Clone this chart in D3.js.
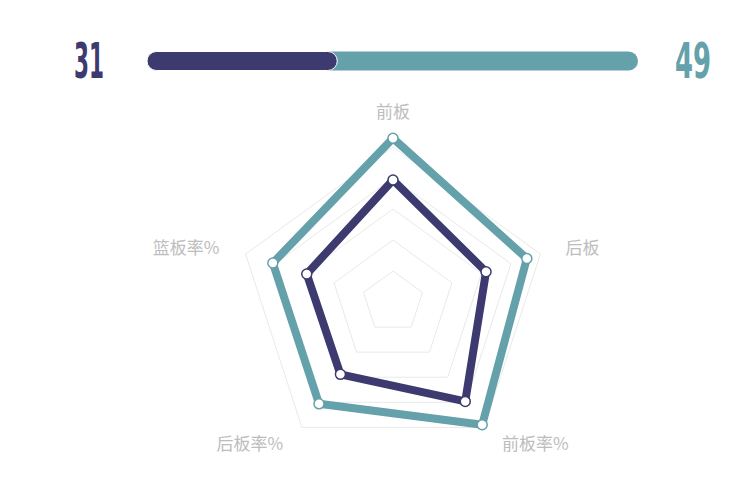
<!DOCTYPE html>
<html>
<head>
<meta charset="utf-8">
<script src="https://cdn.jsdelivr.net/npm/d3@7/dist/d3.min.js"></script>
<style>
  html, body { margin: 0; padding: 0; background: #fff; }
  svg { display: block; }
</style>
</head>
<body>
<svg id="chart" width="750" height="497"></svg>
<script>
// ---- data ----
const indicators = ["前板", "后板", "前板率%", "后板率%", "篮板率%"];
const teamA = [78.7, 63.1, 79.3, 57.7, 58.5];   // navy
const teamB = [105.6, 90.8, 97.9, 81.2, 81.5];  // teal
const totals = [31, 49];
const gridLevels = [20, 40, 60, 80, 100];

const navy = "#3c3a6f";
const teal = "#64a1ab";

const svg = d3.select("#chart");

// ---- top comparison bar ----
const barX0 = 147, barX1 = 638, barY = 61, barH = 19;
const xBar = d3.scaleLinear().domain([0, d3.sum(totals)]).range([barX0, barX1]);
svg.append("rect")
  .attr("x", xBar(0)).attr("y", barY - barH / 2)
  .attr("width", xBar(d3.sum(totals)) - xBar(0)).attr("height", barH)
  .attr("rx", barH / 2).attr("fill", teal);
svg.append("rect")
  .attr("x", xBar(0)).attr("y", barY - barH / 2)
  .attr("width", xBar(totals[0]) - xBar(0)).attr("height", barH)
  .attr("rx", barH / 2).attr("fill", navy)
  .attr("stroke", "#fff").attr("stroke-width", 1);

const numFont = "'Liberation Sans Narrow', 'DejaVu Sans Condensed', sans-serif";
svg.append("text")
  .attr("x", 74).attr("y", 78)
  .attr("font-family", numFont).attr("font-weight", "bold")
  .attr("font-size", 50).attr("fill", navy)
  .attr("textLength", 30).attr("lengthAdjust", "spacingAndGlyphs")
  .text(totals[0]);
svg.append("text")
  .attr("x", 675).attr("y", 78)
  .attr("font-family", numFont).attr("font-weight", "bold")
  .attr("font-size", 50).attr("fill", teal)
  .attr("textLength", 36).attr("lengthAdjust", "spacingAndGlyphs")
  .text(totals[1]);

// ---- radar ----
const cx = 393, cy = 302, R = 155;
const r = d3.scaleLinear().domain([0, 100]).range([0, R]);
const angle = d3.scaleLinear().domain([0, indicators.length]).range([0, 2 * Math.PI]);
const g = svg.append("g").attr("transform", `translate(${cx},${cy})`);

const pt = (i, v) => {
  const a = angle(i);
  return [Math.sin(a) * r(v), -Math.cos(a) * r(v)];
};

const lineClosed = d3.line().curve(d3.curveLinearClosed);

// grid
g.selectAll("path.grid").data(gridLevels).join("path")
  .attr("class", "grid")
  .attr("d", lv => lineClosed(indicators.map((_, i) => pt(i, lv))))
  .attr("fill", "none").attr("stroke", "#e9e9e9").attr("stroke-width", 1);

// labels
const labelR = 113;
const labelPos = [
  { dx: 0, dy: -13, anchor: "middle" },
  { dx: 6, dy: 1, anchor: "start" },
  { dx: 6, dy: 2, anchor: "start" },
  { dx: -7, dy: 2, anchor: "end" },
  { dx: -7, dy: 1, anchor: "end" }
];
g.selectAll("text.lbl").data(indicators).join("text")
  .attr("class", "lbl")
  .attr("x", (d, i) => pt(i, labelR)[0] + labelPos[i].dx)
  .attr("y", (d, i) => pt(i, labelR)[1] + labelPos[i].dy)
  .attr("text-anchor", (d, i) => labelPos[i].anchor)
  .attr("dominant-baseline", "middle")
  .attr("font-family", "'Noto Sans CJK SC', 'Noto Sans', sans-serif")
  .attr("font-size", 17).attr("fill", "#bdbdbd")
  .text(d => d);

// series
const series = [
  { values: teamB, color: teal },
  { values: teamA, color: navy }
];
series.forEach(s => {
  const pts = s.values.map((v, i) => pt(i, v));
  g.append("path")
    .attr("d", lineClosed(pts))
    .attr("fill", "none").attr("stroke", s.color)
    .attr("stroke-width", 8).attr("stroke-linejoin", "round");
  g.selectAll(null).data(pts).join("circle")
    .attr("cx", d => d[0]).attr("cy", d => d[1]).attr("r", 5)
    .attr("fill", "#fff").attr("stroke", s.color).attr("stroke-width", 1.5);
});
</script>
</body>
</html>
